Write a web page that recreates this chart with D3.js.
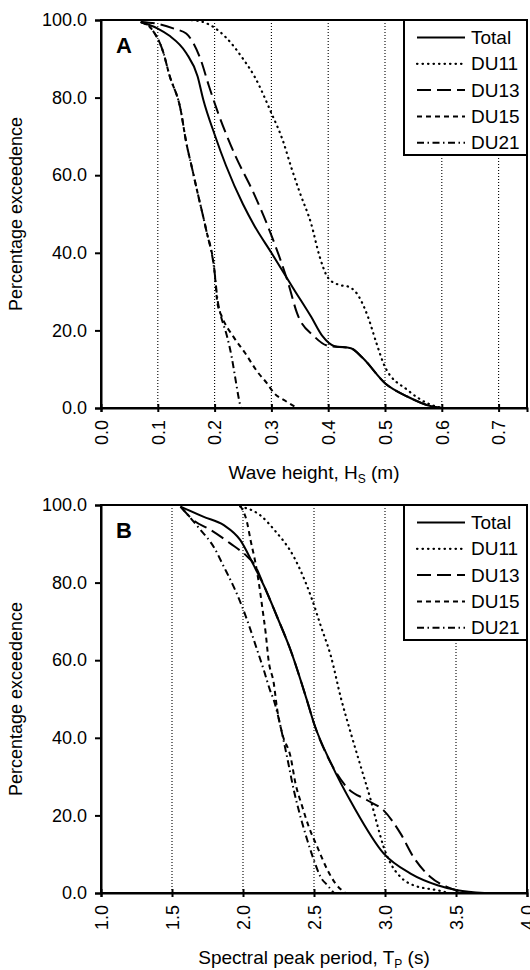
<!DOCTYPE html>
<html>
<head>
<meta charset="utf-8">
<script src="https://cdn.jsdelivr.net/npm/d3@7"></script>
<style>
  body { margin: 0; background: #fff; }
  text { font-family: 'Liberation Sans', Arial, sans-serif; fill: #000; }
</style>
</head>
<body>
<svg id="chart" width="530" height="970"></svg>
<script>
// series names and y ticks shared by both panels
const seriesNames = ['Total', 'DU11', 'DU13', 'DU15', 'DU21']
const pctTicks = [0, 20, 40, 60, 80, 100]

// panel A: wave height Hs (m) vs percentage exceedence
const hsTicks = [0, 0.1, 0.2, 0.3, 0.4, 0.5, 0.6, 0.7]
const hsTotal = [0.07, 0.10, 0.12, 0.15, 0.17, 0.18, 0.20, 0.22, 0.25, 0.27, 0.30, 0.34, 0.37, 0.39, 0.41, 0.44, 0.46, 0.50, 0.54, 0.58, 0.60]
const pctTotalA = [99.5, 97.8, 96, 91.5, 85.5, 79.5, 70.5, 62.5, 52.5, 47, 40, 30.5, 23.5, 18.5, 16, 15.4, 13, 6.4, 2.9, 0.5, 0]
const hsDU11 = [0.15, 0.17, 0.20, 0.22, 0.25, 0.27, 0.30, 0.32, 0.335, 0.35, 0.37, 0.385, 0.40, 0.42, 0.435, 0.45, 0.47, 0.485, 0.50, 0.54, 0.575, 0.60]
const pctDU11A = [100, 99.8, 98, 95.5, 90, 85.5, 76, 69, 62, 55.5, 47.5, 39, 33.5, 31.7, 31.3, 29.6, 23.5, 16.7, 10.6, 4.6, 1.2, 0]
const hsDU13 = [0.07, 0.10, 0.13, 0.15, 0.175, 0.19, 0.205, 0.235, 0.27, 0.30, 0.33, 0.345, 0.375, 0.40, 0.44, 0.46, 0.50, 0.54, 0.58, 0.60]
const pctDU13A = [99.5, 99, 97.7, 96.5, 90, 83, 76.5, 65.5, 55, 44.5, 32, 24.5, 18.5, 16, 15.4, 13, 6.4, 2.9, 0.5, 0]
const hsDU15 = [0.07, 0.09, 0.11, 0.12, 0.14, 0.15, 0.16, 0.17, 0.185, 0.20, 0.205, 0.213, 0.233, 0.254, 0.275, 0.292, 0.305, 0.325, 0.345]
const pctDU15A = [99.5, 97.5, 91.5, 86, 77, 68.5, 62, 55.5, 46, 35, 27, 23.5, 18.4, 14.1, 9.4, 6.4, 3.8, 1.8, 0]
const hsDU21 = [0.07, 0.09, 0.11, 0.12, 0.14, 0.15, 0.16, 0.17, 0.185, 0.20, 0.205, 0.21, 0.222, 0.23, 0.236, 0.242, 0.246]
const pctDU21A = [99.5, 97.5, 91.5, 86, 77, 68.5, 62, 55.5, 46, 35, 28, 24.4, 18.4, 13.2, 8.1, 2.9, 0]

// panel B: spectral peak period Tp (s) vs percentage exceedence
const tpTicks = [1.0, 1.5, 2.0, 2.5, 3.0, 3.5, 4.0]
const tpTotal = [1.56, 1.72, 1.865, 1.98, 2.075, 2.15, 2.24, 2.335, 2.45, 2.5, 2.62, 2.78, 2.99, 3.18, 3.37, 3.51, 3.7]
const pctTotalB = [99.6, 97, 94.8, 91, 84.5, 79, 71.2, 62.6, 49.7, 43.7, 33.4, 22.2, 10.2, 5, 2, 0.7, 0]
const tpDU11 = [1.98, 2.12, 2.22, 2.36, 2.48, 2.55, 2.62, 2.69, 2.76, 2.83, 2.9, 2.95, 2.99, 3.04, 3.11, 3.2, 3.37, 3.45]
const pctDU11B = [99.6, 97.4, 93.6, 86.5, 76.3, 68.6, 60.9, 50.2, 41.1, 32.5, 23.9, 17, 11.9, 7.6, 4.1, 2, 0.7, 0]
const tpDU13 = [1.56, 1.65, 1.77, 1.91, 2.03, 2.075, 2.15, 2.24, 2.335, 2.45, 2.5, 2.62, 2.73, 2.875, 2.99, 3.11, 3.2, 3.32, 3.44, 3.52, 3.6]
const pctDU13B = [99.6, 96.1, 93.6, 90.1, 86.7, 85, 79, 71.2, 62.6, 49.7, 43.7, 33.4, 27.3, 23.9, 21.3, 15.3, 9.3, 4.1, 1.5, 0.5, 0]
const tpDU15 = [1.98, 2.03, 2.053, 2.088, 2.112, 2.135, 2.16, 2.18, 2.217, 2.24, 2.276, 2.335, 2.37, 2.418, 2.464, 2.523, 2.594, 2.65, 2.72]
const pctDU15B = [99.8, 95.3, 91, 85, 79.8, 73.8, 66.9, 60, 54, 47.5, 41.1, 35.1, 28.2, 22.2, 17, 11.9, 6, 2.5, 0]
const tpDU21 = [1.56, 1.7, 1.794, 1.865, 1.935, 1.994, 2.053, 2.1, 2.147, 2.19, 2.217, 2.265, 2.31, 2.358, 2.405, 2.453, 2.5, 2.547, 2.594, 2.64]
const pctDU21B = [99.6, 93.6, 89.2, 84.1, 78.9, 73.8, 67.8, 62.6, 57.4, 52.3, 49.7, 42.8, 35.1, 26.5, 19.6, 13.6, 8.4, 4.1, 2, 0]

const zip = (xs, ys) => xs.map((x, i) => ({ x: x, y: ys[i] }))

// line styles per series
const dashes = { Total: null, DU11: '0.5,5', DU13: '14,6', DU15: '5,4', DU21: '7,3.5,1.5,3.5' }
const caps = { Total: 'butt', DU11: 'round', DU13: 'butt', DU15: 'butt', DU21: 'butt' }

const svg = d3.select('#chart')

const drawPanel = (cfg) => {
  const left = 101, right = 527
  const top = cfg.top, bottom = cfg.top + 388
  const g = svg.append('g')

  const x = d3.scaleLinear().domain(cfg.xDomain).range([left, right])
  const y = d3.scaleLinear().domain([0, 100]).range([bottom, top])

  // dotted vertical grid lines
  g.append('g')
    .selectAll('line')
    .data(cfg.grid)
    .join('line')
    .attr('x1', (d) => x(d))
    .attr('x2', (d) => x(d))
    .attr('y1', top)
    .attr('y2', bottom)
    .attr('stroke', '#000')
    .attr('stroke-width', 1.1)
    .attr('stroke-dasharray', '1,2')

  // the curves
  const line = d3.line()
    .x((d) => x(d.x))
    .y((d) => y(d.y))
    .curve(d3.curveMonotoneX)

  cfg.series.forEach((s) => {
    g.append('path')
      .datum(s.values)
      .attr('fill', 'none')
      .attr('stroke', '#000')
      .attr('stroke-width', s.name === 'DU11' ? 2.2 : 2)
      .attr('stroke-linecap', caps[s.name])
      .attr('stroke-dasharray', dashes[s.name])
      .attr('d', line)
  })

  // frame
  g.append('rect')
    .attr('x', left)
    .attr('y', top)
    .attr('width', right - left)
    .attr('height', bottom - top)
    .attr('fill', 'none')
    .attr('stroke', '#000')
    .attr('stroke-width', 2)

  // y axis
  const yAxis = g.append('g')
    .attr('transform', `translate(${left},0)`)
    .call(d3.axisLeft(y).tickValues(pctTicks).tickFormat(d3.format('.1f')).tickSize(6).tickPadding(8))
  yAxis.select('.domain').attr('stroke-width', 2)
  yAxis.selectAll('.tick line').attr('stroke-width', 2)
  yAxis.selectAll('text').attr('font-size', 18)

  // x axis, crossing ticks and rotated labels
  const xAxis = g.append('g')
    .attr('transform', `translate(0,${bottom})`)
    .call(d3.axisBottom(x).tickValues(cfg.xTicks).tickFormat(d3.format('.1f')).tickSize(4))
  xAxis.select('.domain').attr('stroke-width', 2)
  xAxis.selectAll('.tick line').attr('y1', -4).attr('y2', 4).attr('stroke-width', 2)
  xAxis.selectAll('text')
    .attr('font-size', 18)
    .attr('transform', 'rotate(-90)')
    .attr('text-anchor', 'end')
    .attr('x', -12)
    .attr('y', 0)
    .attr('dy', '0.35em')

  // axis titles
  g.append('text')
    .attr('transform', `translate(22,${(top + bottom) / 2}) rotate(-90)`)
    .attr('text-anchor', 'middle')
    .attr('font-size', 18)
    .text('Percentage exceedence')

  const xt = g.append('text')
    .attr('x', (left + right) / 2)
    .attr('y', bottom + 71)
    .attr('text-anchor', 'middle')
    .attr('font-size', 19)
  xt.append('tspan').text(cfg.xTitle[0])
  xt.append('tspan').attr('font-size', 12).attr('dy', 4).text(cfg.xTitle[1])
  xt.append('tspan').attr('dy', -4).text(cfg.xTitle[2])

  // panel letter
  g.append('text')
    .attr('x', left + 15)
    .attr('y', top + 33)
    .attr('font-size', 22)
    .attr('font-weight', 'bold')
    .text(cfg.letter)

  // legend
  const lg = g.append('g').attr('transform', `translate(404,${top})`)
  lg.append('rect')
    .attr('width', right - 404)
    .attr('height', 135)
    .attr('fill', '#fff')
    .attr('stroke', '#000')
    .attr('stroke-width', 2)
  seriesNames.forEach((name, i) => {
    const ly = 17.5 + i * 26.3
    lg.append('line')
      .attr('x1', 13)
      .attr('x2', 61)
      .attr('y1', ly)
      .attr('y2', ly)
      .attr('stroke', '#000')
      .attr('stroke-width', name === 'DU11' ? 2.2 : 2)
      .attr('stroke-linecap', caps[name])
      .attr('stroke-dasharray', dashes[name])
    lg.append('text')
      .attr('x', 67)
      .attr('y', ly)
      .attr('dy', '0.35em')
      .attr('font-size', 19)
      .text(name)
  })
}

drawPanel({
  top: 20,
  letter: 'A',
  xDomain: [0, 0.75],
  xTicks: hsTicks,
  grid: hsTicks.slice(1),
  xTitle: ['Wave height, H', 'S', ' (m)'],
  series: [
    { name: 'Total', values: zip(hsTotal, pctTotalA) },
    { name: 'DU11', values: zip(hsDU11, pctDU11A) },
    { name: 'DU13', values: zip(hsDU13, pctDU13A) },
    { name: 'DU15', values: zip(hsDU15, pctDU15A) },
    { name: 'DU21', values: zip(hsDU21, pctDU21A) },
  ],
})

drawPanel({
  top: 505,
  letter: 'B',
  xDomain: [1, 4],
  xTicks: tpTicks,
  grid: tpTicks.slice(1, -1),
  xTitle: ['Spectral peak period, T', 'P', ' (s)'],
  series: [
    { name: 'Total', values: zip(tpTotal, pctTotalB) },
    { name: 'DU11', values: zip(tpDU11, pctDU11B) },
    { name: 'DU13', values: zip(tpDU13, pctDU13B) },
    { name: 'DU15', values: zip(tpDU15, pctDU15B) },
    { name: 'DU21', values: zip(tpDU21, pctDU21B) },
  ],
})
</script>
</body>
</html>
